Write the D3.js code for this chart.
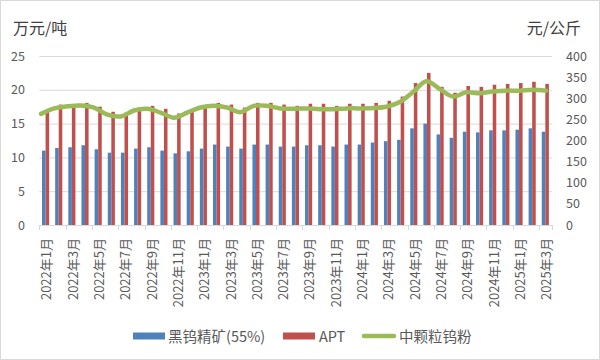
<!DOCTYPE html>
<html><head><meta charset="utf-8">
<script src="https://cdn.jsdelivr.net/npm/d3@7"></script>
<style>
html,body{margin:0;padding:0;background:#fff;}
svg{display:block;font-family:"Noto Sans CJK SC","Noto Sans",sans-serif;}
</style></head>
<body>
<svg id="chart" width="600" height="360"></svg>
<script>
const months = ["2022年1月","2022年2月","2022年3月","2022年4月","2022年5月","2022年6月","2022年7月","2022年8月","2022年9月","2022年10月","2022年11月","2022年12月",
"2023年1月","2023年2月","2023年3月","2023年4月","2023年5月","2023年6月","2023年7月","2023年8月","2023年9月","2023年10月","2023年11月","2023年12月",
"2024年1月","2024年2月","2024年3月","2024年4月","2024年5月","2024年6月","2024年7月","2024年8月","2024年9月","2024年10月","2024年11月","2024年12月",
"2025年1月","2025年2月","2025年3月"];
const wolframite = [11.0,11.4,11.5,11.8,11.2,10.7,10.7,11.3,11.5,11.0,10.6,10.9,11.3,11.9,11.6,11.3,11.9,11.9,11.6,11.6,11.8,11.8,11.6,11.9,11.9,12.2,12.4,12.6,14.3,15.0,13.4,12.9,13.8,13.7,14.0,14.0,14.1,14.3,13.8];
const apt = [273,285,285,289,280,268,266,278,282,275,264,268,280,289,285,278,289,289,285,282,287,287,282,287,287,289,294,304,336,360,327,313,329,327,332,334,336,339,334];
const powder = [263,276,281,283,278,261,257,271,275,266,254,266,278,282,278,267,282,282,276,275,276,274,274,276,276,277,280,291,315,340,322,304,314,312,316,318,318,320,318];
const leftTicks = [0,5,10,15,20,25];
const rightTicks = [0,50,100,150,200,250,300,350,400];
const seriesNames = ["黑钨精矿(55%)","APT","中颗粒钨粉"];
const colors = ["#4F81BD","#C0504D","#9BBB59"];

const svg = d3.select("#chart");
const W = 600, H = 360;
const x0 = 39.3, x1 = 552.2, yTop = 56, yBot = 225;

svg.append("rect").attr("x",0.5).attr("y",0.5).attr("width",W-1).attr("height",H-1)
  .attr("fill","#fff").attr("stroke","#d9d9d9");

const x = d3.scaleBand().domain(months).range([x0,x1]).paddingInner(0).paddingOuter(0);
const xs = d3.scaleBand().domain([0,1]).range([-0.3, x.bandwidth()-0.3]).paddingInner(0).paddingOuter(0.85);
const xLine = d3.scalePoint().domain(months).range([41,546]);
const yL = d3.scaleLinear().domain([0,25]).range([yBot,yTop]);
const yR = d3.scaleLinear().domain([0,400]).range([yBot,yTop]);

// gridlines
const grid = svg.append("g").attr("transform",`translate(${x0},0)`)
  .call(d3.axisLeft(yL).tickValues(leftTicks.filter(d=>d>0)).tickSize(-(x1-x0)).tickFormat(""));
grid.select(".domain").remove();
grid.selectAll("line").attr("stroke","#d9d9d9");

// bars
const g = svg.append("g");
g.selectAll("rect.b").data(wolframite).join("rect").attr("class","b")
  .attr("x",(d,i)=>x(months[i])+xs(0)).attr("width",xs.bandwidth())
  .attr("y",d=>yL(d)).attr("height",d=>yBot-yL(d)).attr("fill",colors[0]);
g.selectAll("rect.r").data(apt).join("rect").attr("class","r")
  .attr("x",(d,i)=>x(months[i])+xs(1)).attr("width",xs.bandwidth())
  .attr("y",d=>yR(d)).attr("height",d=>yBot-yR(d)).attr("fill",colors[1]);

// x axis line and ticks
svg.append("line").attr("x1",x0).attr("x2",x1).attr("y1",yBot+0.5).attr("y2",yBot+0.5).attr("stroke","#d9d9d9");
const tickIdx = months.map((m,i)=>i).filter(i=>i%2===0);
svg.selectAll("line.xt").data(tickIdx).join("line").attr("class","xt")
  .attr("x1",i=>Math.round(x(months[i]))+0.5).attr("x2",i=>Math.round(x(months[i]))+0.5)
  .attr("y1",yBot).attr("y2",yBot+5).attr("stroke","#d9d9d9");
svg.append("line").attr("x1",Math.round(x1)+0.5).attr("x2",Math.round(x1)+0.5).attr("y1",yBot).attr("y2",yBot+5).attr("stroke","#d9d9d9");

// line
const line = d3.line().x((d,i)=>xLine(months[i])).y(d=>yR(d)).curve(d3.curveCatmullRom.alpha(0.5));
svg.append("path").datum(powder).attr("d",line).attr("fill","none")
  .attr("stroke",colors[2]).attr("stroke-width",4.5).attr("stroke-linejoin","round").attr("stroke-linecap","round");

// x labels
svg.selectAll("text.xl").data(tickIdx).join("text").attr("class","xl")
  .attr("transform",i=>`translate(${x(months[i])+x.bandwidth()/2+1},238) rotate(-90)`)
  .attr("text-anchor","end").attr("dy","0.35em")
  .attr("font-size",13).attr("fill","#595959").text(i=>months[i]);

// left axis labels
const la = svg.append("g").attr("transform","translate(25,0)")
  .call(d3.axisLeft(yL).tickValues(leftTicks).tickSize(0).tickPadding(0));
la.select(".domain").remove();
la.selectAll("text").attr("font-size",12.5).attr("fill","#595959").attr("font-family","'Noto Sans CJK SC','Noto Sans',sans-serif");

const ra = svg.append("g").attr("transform","translate(566,0)")
  .call(d3.axisRight(yR).tickValues(rightTicks).tickSize(0).tickPadding(0));
ra.select(".domain").remove();
ra.selectAll("text").attr("font-size",12.5).attr("fill","#595959").attr("font-family","'Noto Sans CJK SC','Noto Sans',sans-serif");

// axis titles
svg.append("text").attr("x",13).attr("y",34).attr("font-size",16).attr("fill","#404040").text("万元/吨");
svg.append("text").attr("x",581).attr("y",34).attr("text-anchor","end").attr("font-size",16).attr("fill","#404040").text("元/公斤");

// legend
const lg = svg.append("g");
lg.append("rect").attr("x",133).attr("y",332.5).attr("width",32).attr("height",7).attr("fill",colors[0]);
lg.append("text").attr("x",168).attr("y",341.5).attr("font-size",14.5).attr("fill","#595959").text(seriesNames[0]);
lg.append("rect").attr("x",283).attr("y",332.5).attr("width",32).attr("height",7).attr("fill",colors[1]);
lg.append("text").attr("x",319).attr("y",341.5).attr("font-size",14.5).attr("fill","#595959").text(seriesNames[1]);
lg.append("line").attr("x1",364).attr("x2",394).attr("y1",336).attr("y2",336).attr("stroke",colors[2]).attr("stroke-width",4.5).attr("stroke-linecap","round");
lg.append("text").attr("x",399).attr("y",341.5).attr("font-size",14.5).attr("fill","#595959").text(seriesNames[2]);
</script>
</body></html>
